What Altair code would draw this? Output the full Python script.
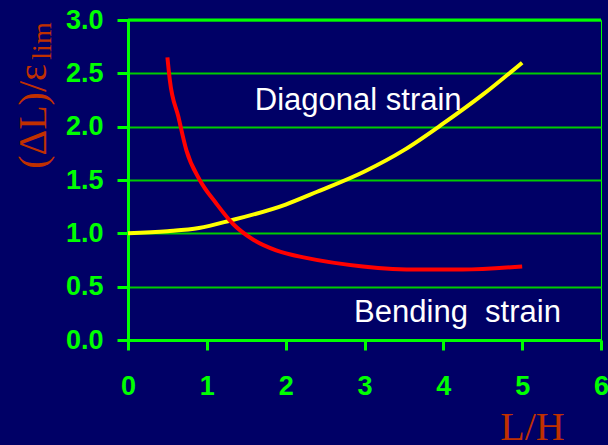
import altair as alt
import pandas as pd

# Diagonal strain (yellow)
diag_x = [0.0, 0.5, 0.9, 1.3, 2.0, 2.4, 3.0, 3.5, 4.0, 4.5, 5.0]
diag_y = [1.0, 1.02, 1.05, 1.12, 1.27, 1.39, 1.58, 1.78, 2.03, 2.30, 2.60]

# Bending strain (red)
bend_x = [0.50, 0.53, 0.64, 0.74, 0.91, 1.12, 1.33, 1.59, 1.88, 2.26, 2.98, 3.70, 4.24, 5.0]
bend_y = [2.65, 2.44, 2.09, 1.78, 1.50, 1.28, 1.09, 0.94, 0.84, 0.77, 0.69, 0.66, 0.66, 0.69]

labels = ["Diagonal strain", "Bending\u00a0 strain"]
label_x = [2.92, 4.18]
label_y = [2.16, 0.172]

x_ticks = [0, 1, 2, 3, 4, 5, 6]
y_ticks = [0.0, 0.5, 1.0, 1.5, 2.0, 2.5, 3.0]

GREEN = "#00ff00"
TITLE_RED = "#c03000"

diag = pd.DataFrame({"x": diag_x, "y": diag_y})
bend = pd.DataFrame({"x": bend_x, "y": bend_y})
lab = pd.DataFrame({"x": label_x, "y": label_y, "t": labels})

xs = alt.Scale(domain=[0, 6], nice=False, zero=False)
ys = alt.Scale(domain=[0, 3], nice=False, zero=False)

x_axis = alt.Axis(
    values=x_ticks, format="d", title="L/H",
    titleFont="Liberation Serif", titleFontSize=40, titleFontWeight="normal",
    titleColor=TITLE_RED, titleX=404, titleY=99, titleAlign="center",
    titleBaseline="alphabetic", titleAngle=0,
    labelFont="Liberation Sans", labelFontSize=27, labelFontWeight="bold",
    labelColor=GREEN, labelPadding=23, labelFlush=False,
    tickSize=10, tickWidth=3, tickColor=GREEN,
    domainColor=GREEN, domainWidth=3, grid=False,
)
y_axis = alt.Axis(
    values=y_ticks, format=".1f", title="(ΔL)/ε",
    titleFont="Liberation Serif", titleFontSize=40, titleFontWeight="normal",
    titleColor=TITLE_RED, titleX=-83, titleY=96, titleAlign="center",
    titleBaseline="alphabetic", titleAngle=270,
    labelFont="Liberation Sans", labelFontSize=27, labelFontWeight="bold",
    labelColor=GREEN, labelPadding=14, labelFlush=False,
    tickSize=11, tickWidth=3, tickColor=GREEN,
    domainColor=GREEN, domainWidth=3,
    grid=True, gridColor="#00cc00", gridWidth=2,
)

base_diag = alt.Chart(diag).mark_line(color="#ffff00", strokeWidth=4, interpolate="monotone").encode(
    x=alt.X("x:Q", scale=xs, axis=x_axis),
    y=alt.Y("y:Q", scale=ys, axis=y_axis),
)
line_bend = alt.Chart(bend).mark_line(color="#ff0000", strokeWidth=4, interpolate="monotone").encode(
    x=alt.X("x:Q", scale=xs),
    y=alt.Y("y:Q", scale=ys),
)
top_rule = alt.Chart(pd.DataFrame({"y": [y_ticks[-1]]})).mark_rule(color=GREEN, strokeWidth=3).encode(
    y=alt.Y("y:Q", scale=ys),
)
texts = alt.Chart(lab).mark_text(
    font="Liberation Sans", fontSize=31, color="white", align="center", baseline="alphabetic"
).encode(
    x=alt.X("x:Q", scale=xs),
    y=alt.Y("y:Q", scale=ys),
    text="t:N",
)
sub = alt.Chart(pd.DataFrame({"t": ["lim"]})).mark_text(
    font="Liberation Serif", fontSize=28, color=TITLE_RED, align="center",
    baseline="alphabetic", angle=270,
).encode(x=alt.value(-77), y=alt.value(21), text="t:N")

chart = alt.layer(top_rule, base_diag, line_bend, texts, sub).properties(
    width=473, height=320,
    background="#000066",
    padding={"left": 128, "top": 20, "right": 7, "bottom": 105},
    autosize=alt.AutoSizeParams(type="none"),
).configure_view(stroke=GREEN, strokeWidth=1)

chart.save("out.html", embed_options={"renderer": "svg", "actions": False})
